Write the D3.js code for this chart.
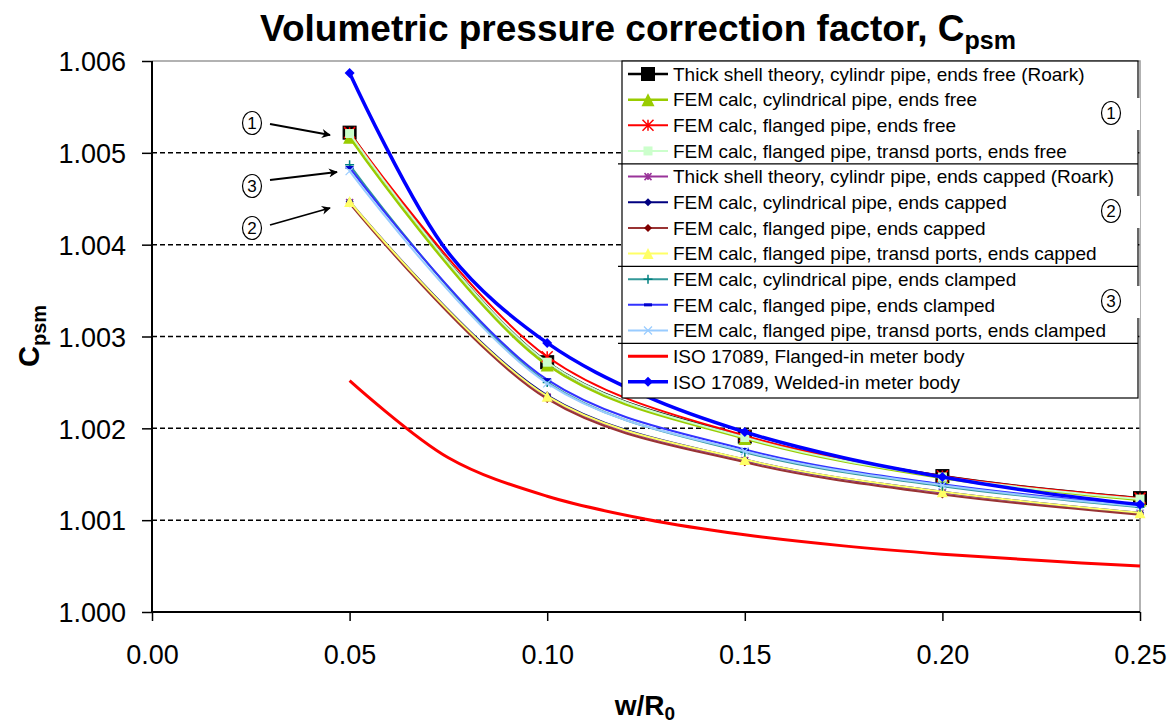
<!DOCTYPE html>
<html>
<head>
<meta charset="utf-8">
<script src="https://cdn.jsdelivr.net/npm/d3@7"></script>
<style>
  body { margin: 0; background: #fff; }
  text { font-family: "Liberation Sans", Arial, sans-serif; }
</style>
</head>
<body>
<svg id="chart" width="1170" height="727"></svg>
<script>
// x positions of the calculated points (w/R0)
var xValues = [0.05, 0.10, 0.15, 0.20, 0.25];

// group 1 - ends free
var roarkFree      = [1.00522, 1.00272, 1.00191, 1.00148, 1.00124];
var femCylFree     = [1.00517, 1.00269, 1.00189, 1.00146, 1.00122];
var femFlgFree     = [1.00522, 1.00278, 1.00192, 1.00148, 1.00124];
var femPortsFree   = [1.00521, 1.00272, 1.00190, 1.00147, 1.00123];
// group 2 - ends capped
var roarkCapped    = [1.00446, 1.00234, 1.00165, 1.00130, 1.00107];
var femCylCapped   = [1.00447, 1.00236, 1.00166, 1.00131, 1.00108];
var femFlgCapped   = [1.00445, 1.00232, 1.00163, 1.00128, 1.00106];
var femPortsCapped = [1.00447, 1.00235, 1.00166, 1.00131, 1.00108];
// group 3 - ends clamped
var femCylClamped   = [1.00487, 1.00250, 1.00174, 1.00137, 1.00114];
var femFlgClamped   = [1.00484, 1.00253, 1.00177, 1.00139, 1.00116];
var femPortsClamped = [1.00480, 1.00249, 1.00175, 1.00138, 1.00115];

// ISO 17089 curves
var isoX        = [0.05, 0.075, 0.10, 0.125, 0.15, 0.175, 0.20, 0.225, 0.25];
var isoFlanged  = [1.00252, 1.00168, 1.00126, 1.00101, 1.00084, 1.00072, 1.00063, 1.00056, 1.00050];
var isoWelded   = [1.00587, 1.00391, 1.00293, 1.00235, 1.00196, 1.00168, 1.00147, 1.00130, 1.00117];

var xTicks = [0, 0.05, 0.10, 0.15, 0.20, 0.25];
var yTicks = [1.000, 1.001, 1.002, 1.003, 1.004, 1.005, 1.006];

var svg = d3.select("#chart");
var pLeft = 152, pRight = 1140, pTop = 61, pBottom = 612;

var x = d3.scaleLinear().domain([0, 0.25]).range([pLeft, pRight]);
var y = d3.scaleLinear().domain([1.000, 1.006]).range([pBottom, pTop]);

// series table
var series = [
  {name: "Thick shell theory, cylindr pipe, ends free (Roark)", xs: xValues, ys: roarkFree, color: "#000000", w: 2.5, marker: "square", mcolor: "#000000", size: 13},
  {name: "FEM calc, cylindrical pipe, ends free", xs: xValues, ys: femCylFree, color: "#99CC00", w: 2.5, marker: "triangle", mcolor: "#99CC00", size: 13},
  {name: "FEM calc, flanged pipe, ends free", xs: xValues, ys: femFlgFree, color: "#FF0000", w: 2, marker: "star", mcolor: "#FF0000", size: 11},
  {name: "FEM calc, flanged pipe, transd ports, ends free", xs: xValues, ys: femPortsFree, color: "#CCFFCC", w: 2, marker: "square", mcolor: "#CCFFCC", size: 9},
  {name: "Thick shell theory, cylindr pipe, ends capped (Roark)", xs: xValues, ys: roarkCapped, color: "#993399", w: 2, marker: "asterisk", mcolor: "#993399", size: 7},
  {name: "FEM calc, cylindrical pipe, ends capped", xs: xValues, ys: femCylCapped, color: "#000080", w: 2, marker: "diamond", mcolor: "#000080", size: 8},
  {name: "FEM calc, flanged pipe, ends capped", xs: xValues, ys: femFlgCapped, color: "#993333", w: 2, marker: "diamond", mcolor: "#800000", size: 8},
  {name: "FEM calc, flanged pipe, transd ports, ends capped", xs: xValues, ys: femPortsCapped, color: "#FFFF66", w: 2, marker: "triangle", mcolor: "#FFFF66", size: 11},
  {name: "FEM calc, cylindrical pipe, ends clamped", xs: xValues, ys: femCylClamped, color: "#339999", w: 2, marker: "plus", mcolor: "#008080", size: 9},
  {name: "FEM calc, flanged pipe, ends clamped", xs: xValues, ys: femFlgClamped, color: "#3333FF", w: 2, marker: "dash", mcolor: "#0000CC", size: 8},
  {name: "FEM calc, flanged pipe, transd ports, ends clamped", xs: xValues, ys: femPortsClamped, color: "#99CCFF", w: 2, marker: "x", mcolor: "#99CCFF", size: 8},
  {name: "ISO 17089, Flanged-in meter body", xs: isoX, ys: isoFlanged, color: "#FF0000", w: 3, marker: null},
  {name: "ISO 17089, Welded-in meter body", xs: isoX, ys: isoWelded, color: "#0000FF", w: 3.5, marker: "diamond", mcolor: "#0000FF", size: 10, markAt: xValues}
];

function drawMarker(g, type, color, s, cx, cy) {
  var h = s / 2;
  if (type === "square") {
    g.append("rect").attr("x", cx - h).attr("y", cy - h).attr("width", s).attr("height", s)
      .attr("fill", color).attr("stroke", color === "#000000" ? "#000" : "none");
  } else if (type === "triangle") {
    g.append("path").attr("d", "M" + cx + "," + (cy - h) + "L" + (cx + h) + "," + (cy + h) + "L" + (cx - h) + "," + (cy + h) + "Z")
      .attr("fill", color);
  } else if (type === "diamond") {
    g.append("path").attr("d", "M" + cx + "," + (cy - h) + "L" + (cx + h) + "," + cy + "L" + cx + "," + (cy + h) + "L" + (cx - h) + "," + cy + "Z")
      .attr("fill", color);
  } else if (type === "star" || type === "asterisk") {
    var p = "M" + (cx - h) + "," + (cy - h) + "L" + (cx + h) + "," + (cy + h) +
            "M" + (cx + h) + "," + (cy - h) + "L" + (cx - h) + "," + (cy + h) +
            "M" + cx + "," + (cy - h) + "L" + cx + "," + (cy + h);
    if (type === "asterisk") p += "M" + (cx - h) + "," + cy + "L" + (cx + h) + "," + cy;
    g.append("path").attr("d", p).attr("stroke", color).attr("stroke-width", 1.5).attr("fill", "none");
  } else if (type === "plus") {
    g.append("path").attr("d", "M" + (cx - h) + "," + cy + "L" + (cx + h) + "," + cy + "M" + cx + "," + (cy - h) + "L" + cx + "," + (cy + h))
      .attr("stroke", color).attr("stroke-width", 1.5);
  } else if (type === "x") {
    g.append("path").attr("d", "M" + (cx - h) + "," + (cy - h) + "L" + (cx + h) + "," + (cy + h) + "M" + (cx + h) + "," + (cy - h) + "L" + (cx - h) + "," + (cy + h))
      .attr("stroke", color).attr("stroke-width", 1.2);
  } else if (type === "dash") {
    g.append("rect").attr("x", cx - h).attr("y", cy - 1.5).attr("width", s).attr("height", 3).attr("fill", color);
  }
}

// gridlines
svg.append("g").selectAll("line").data(yTicks.slice(1, 6)).enter().append("line")
  .attr("x1", pLeft).attr("x2", pRight)
  .attr("y1", function(d) { return y(d); }).attr("y2", function(d) { return y(d); })
  .attr("stroke", "#000").attr("stroke-width", 1.5).attr("stroke-dasharray", "5,3");

// plot border top/right
svg.append("path").attr("d", "M" + pLeft + "," + pTop + "H" + pRight + "V" + pBottom)
  .attr("fill", "none").attr("stroke", "#999").attr("stroke-width", 1.5);

// axes
var xAxis = d3.axisBottom(x).tickValues(xTicks).tickSize(9).tickFormat(d3.format(".2f"));
var yAxis = d3.axisLeft(y).tickValues(yTicks).tickSize(10).tickFormat(d3.format(".3f"));

var gx = svg.append("g").attr("transform", "translate(0," + pBottom + ")").call(xAxis);
gx.select(".domain").attr("stroke", "#000").attr("stroke-width", 2).attr("d", "M" + pLeft + ",0H" + pRight);
gx.selectAll(".tick line").attr("stroke", "#000").attr("stroke-width", 1.5);
gx.selectAll(".tick text").attr("font-size", 27).attr("fill", "#000").attr("y", 52).attr("dy", 0);

var gy = svg.append("g").attr("transform", "translate(" + pLeft + ",0)").call(yAxis);
gy.select(".domain").attr("stroke", "#000").attr("stroke-width", 2).attr("d", "M0," + pTop + "V" + pBottom);
gy.selectAll(".tick line").attr("stroke", "#000").attr("stroke-width", 1.5);
gy.selectAll(".tick text").attr("font-size", 27).attr("fill", "#000").attr("x", -26).attr("dy", "0.36em");

// lines
var line = d3.line().curve(d3.curveCatmullRom.alpha(0.5))
  .x(function(d) { return x(d[0]); }).y(function(d) { return y(d[1]); });

var plot = svg.append("g");
series.forEach(function(s) {
  var pts = s.xs.map(function(v, i) { return [v, s.ys[i]]; });
  plot.append("path").attr("d", line(pts)).attr("fill", "none")
    .attr("stroke", s.color).attr("stroke-width", s.w).attr("stroke-linejoin", "round");
  if (s.marker) {
    var mg = plot.append("g");
    pts.forEach(function(p) {
      if (s.markAt && s.markAt.indexOf(p[0]) < 0) return;
      drawMarker(mg, s.marker, s.mcolor, s.size, x(p[0]), y(p[1]));
    });
  }
});

// annotation ellipses and arrows
var notes = [
  {label: "1", cx: 252, cy: 123, ax1: 270, ay1: 124, ax2: 330, ay2: 135},
  {label: "3", cx: 252, cy: 186, ax1: 270, ay1: 180, ax2: 337, ay2: 172},
  {label: "2", cx: 252, cy: 228, ax1: 270, ay1: 225, ax2: 330, ay2: 208}
];
svg.append("defs").append("marker").attr("id", "arr").attr("viewBox", "0 0 10 10")
  .attr("refX", 9).attr("refY", 5).attr("markerWidth", 14).attr("markerHeight", 9)
  .attr("markerUnits", "userSpaceOnUse").attr("orient", "auto")
  .append("path").attr("d", "M0,0L10,5L0,10L3,5Z").attr("fill", "#000");
notes.forEach(function(n) {
  svg.append("ellipse").attr("cx", n.cx).attr("cy", n.cy).attr("rx", 9.5).attr("ry", 11.5)
    .attr("fill", "#fff").attr("stroke", "#000").attr("stroke-width", 1.2);
  svg.append("text").attr("x", n.cx).attr("y", n.cy).attr("dy", "0.36em").attr("text-anchor", "middle")
    .attr("font-size", 17).text(n.label);
  svg.append("line").attr("x1", n.ax1).attr("y1", n.ay1).attr("x2", n.ax2).attr("y2", n.ay2)
    .attr("stroke", "#000").attr("stroke-width", 1.8).attr("marker-end", "url(#arr)");
});

// legend
var lgLeft = 622, lgRight = 1138, lgTop = 61, lgBottom = 398, rowY0 = 74, rowStep = 25.65;
var lg = svg.append("g");
lg.append("rect").attr("x", lgLeft).attr("y", lgTop).attr("width", lgRight - lgLeft).attr("height", lgBottom - lgTop)
  .attr("fill", "#fff").attr("stroke", "#000").attr("stroke-width", 1.2);
series.forEach(function(s, i) {
  var ry = rowY0 + i * rowStep;
  lg.append("line").attr("x1", 628).attr("x2", 668).attr("y1", ry).attr("y2", ry)
    .attr("stroke", s.color).attr("stroke-width", s.w);
  if (s.marker) drawMarker(lg, s.marker, s.mcolor, s.size, 648, ry);
  lg.append("text").attr("x", 673).attr("y", ry).attr("dy", "0.36em").attr("font-size", 19)
    .attr("fill", "#000").text(s.name);
});
[4, 8, 11].forEach(function(k) {
  var sy = rowY0 + (k - 0.5) * rowStep;
  lg.append("line").attr("x1", lgLeft - 4).attr("x2", lgRight).attr("y1", sy).attr("y2", sy)
    .attr("stroke", "#000").attr("stroke-width", 1.2);
});
var groupMarks = [{label: "1", cy: 113}, {label: "2", cy: 211}, {label: "3", cy: 301}];
groupMarks.forEach(function(m) {
  lg.append("rect").attr("x", lgRight - 2).attr("y", m.cy - 15).attr("width", 4).attr("height", 32).attr("fill", "#fff");
  lg.append("ellipse").attr("cx", 1111).attr("cy", m.cy).attr("rx", 9.5).attr("ry", 11.5)
    .attr("fill", "#fff").attr("stroke", "#000").attr("stroke-width", 1.2);
  lg.append("text").attr("x", 1111).attr("y", m.cy).attr("dy", "0.36em").attr("text-anchor", "middle")
    .attr("font-size", 17).text(m.label);
});

// title
var title = svg.append("text").attr("x", 638).attr("y", 41).attr("text-anchor", "middle")
  .attr("font-size", 37).attr("font-weight", "bold").attr("fill", "#000");
title.append("tspan").text("Volumetric pressure correction factor, C");
title.append("tspan").attr("font-size", 25).attr("dy", 8).text("psm");

// axis titles
var yl = svg.append("text").attr("transform", "translate(39,336) rotate(-90)").attr("text-anchor", "middle")
  .attr("font-size", 29).attr("font-weight", "bold").attr("fill", "#000");
yl.append("tspan").text("C");
yl.append("tspan").attr("font-size", 20).attr("dy", 7).text("psm");

var xl = svg.append("text").attr("x", 645).attr("y", 715).attr("text-anchor", "middle")
  .attr("font-size", 28).attr("font-weight", "bold").attr("fill", "#000");
xl.append("tspan").text("w/R");
xl.append("tspan").attr("font-size", 19).attr("dy", 5).text("0");
</script>
</body>
</html>
